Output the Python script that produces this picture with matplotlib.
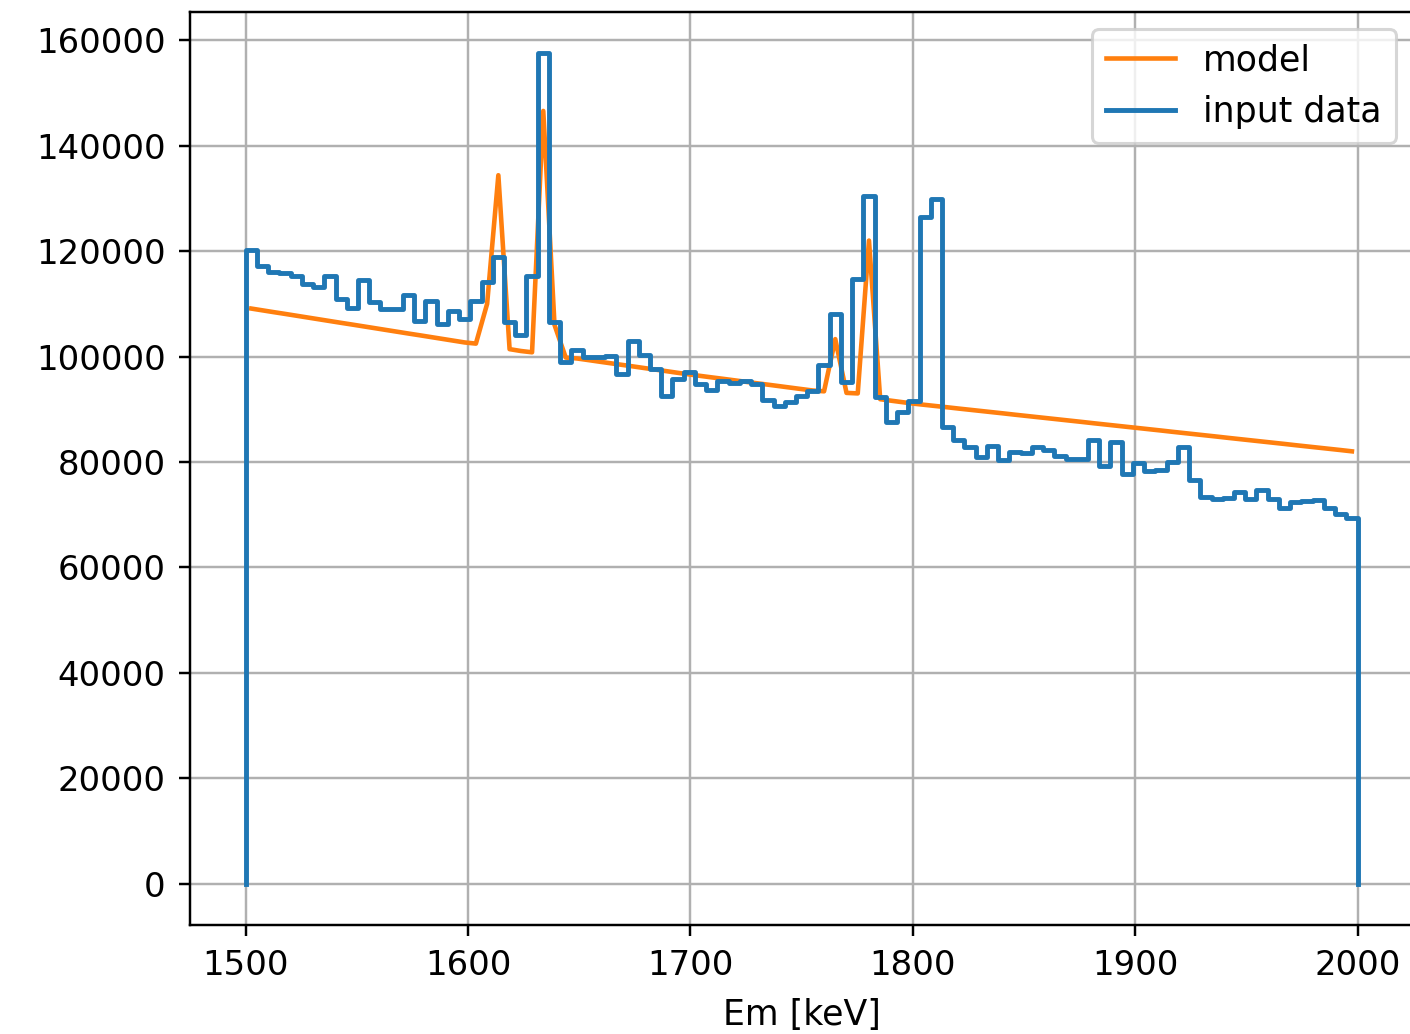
import numpy as np
from matplotlib import pyplot as plt

# histogram of the input data: 99 bins between 1500 and 2000 keV
e_lo = 1500
e_hi = 2000
n_edges = 100

input_data = [
    120300, 117200, 116000, 115800, 115300, 113800, 113100, 115300, 110900, 109300,
    114500, 110300, 109000, 109000, 111600, 106800, 110600, 106200, 108700, 107100,
    110600, 114100, 118800, 106500, 104000, 115300, 157500, 106500, 98900, 101300,
    100000, 100000, 100100, 96600, 102900, 100200, 97700, 92600, 95800, 97100,
    94800, 93600, 95300, 94900, 95300, 94800, 91800, 90700, 91300, 92600,
    93400, 98300, 108100, 95100, 114700, 130500, 92400, 87500, 89400, 91500,
    126400, 129900, 86600, 84100, 82800, 80900, 83100, 80300, 81900, 81600,
    82800, 82200, 81100, 80600, 80600, 84100, 79200, 83800, 77800, 79700,
    78300, 78500, 80000, 82800, 76600, 73400, 72900, 73200, 74300, 72900,
    74600, 72900, 71200, 72400, 72500, 72700, 71200, 70200, 69400,
]

# model evaluated at the bin centres
model = [
    109100, 108760, 108420, 108090, 107750, 107410, 107070, 106730, 106390, 106060,
    105720, 105380, 105040, 104700, 104360, 104030, 103690, 103350, 103010, 102670,
    102450, 110000, 134400, 101400, 101050, 100800, 146600, 106000, 99800, 99630,
    99330, 99020, 98720, 98420, 98120, 97810, 97510, 97210, 96900, 96600,
    96320, 96040, 95770, 95490, 95210, 94930, 94660, 94380, 94100, 93820,
    93550, 93400, 103300, 93100, 93000, 122000, 91900, 91610, 91330, 91050,
    90820, 90590, 90360, 90120, 89890, 89660, 89430, 89200, 88960, 88730,
    88500, 88270, 88040, 87810, 87580, 87340, 87110, 86880, 86650, 86420,
    86190, 85960, 85720, 85490, 85260, 85030, 84800, 84560, 84330, 84100,
    83870, 83640, 83410, 83170, 82940, 82710, 82480, 82250, 82010,
]

edges = np.linspace(e_lo, e_hi, n_edges)
centres = 0.5 * (edges[1:] + edges[:-1])

# outline of the histogram, dropping to zero at both ends
step_x = np.repeat(edges, 2)
step_y = np.concatenate([[0], np.repeat(input_data, 2), [0]])

fig = plt.figure(figsize=(1410 / 220, 1034 / 220), dpi=220)
ax = fig.add_axes([0.1348, 0.1054, 0.8674, 0.8830])

ax.plot(centres, model, color='C1', lw=1.5, label='model')
ax.plot(step_x, step_y, color='C0', lw=1.6, label='input data')

ax.grid(True)
ax.tick_params(labelsize=11.1, pad=4.5)
ax.set_xlabel('Em [keV]', fontsize=11.4, labelpad=5)
ax.legend(loc='upper right', fontsize=11.4)

fig.savefig('out.png', dpi=220)
